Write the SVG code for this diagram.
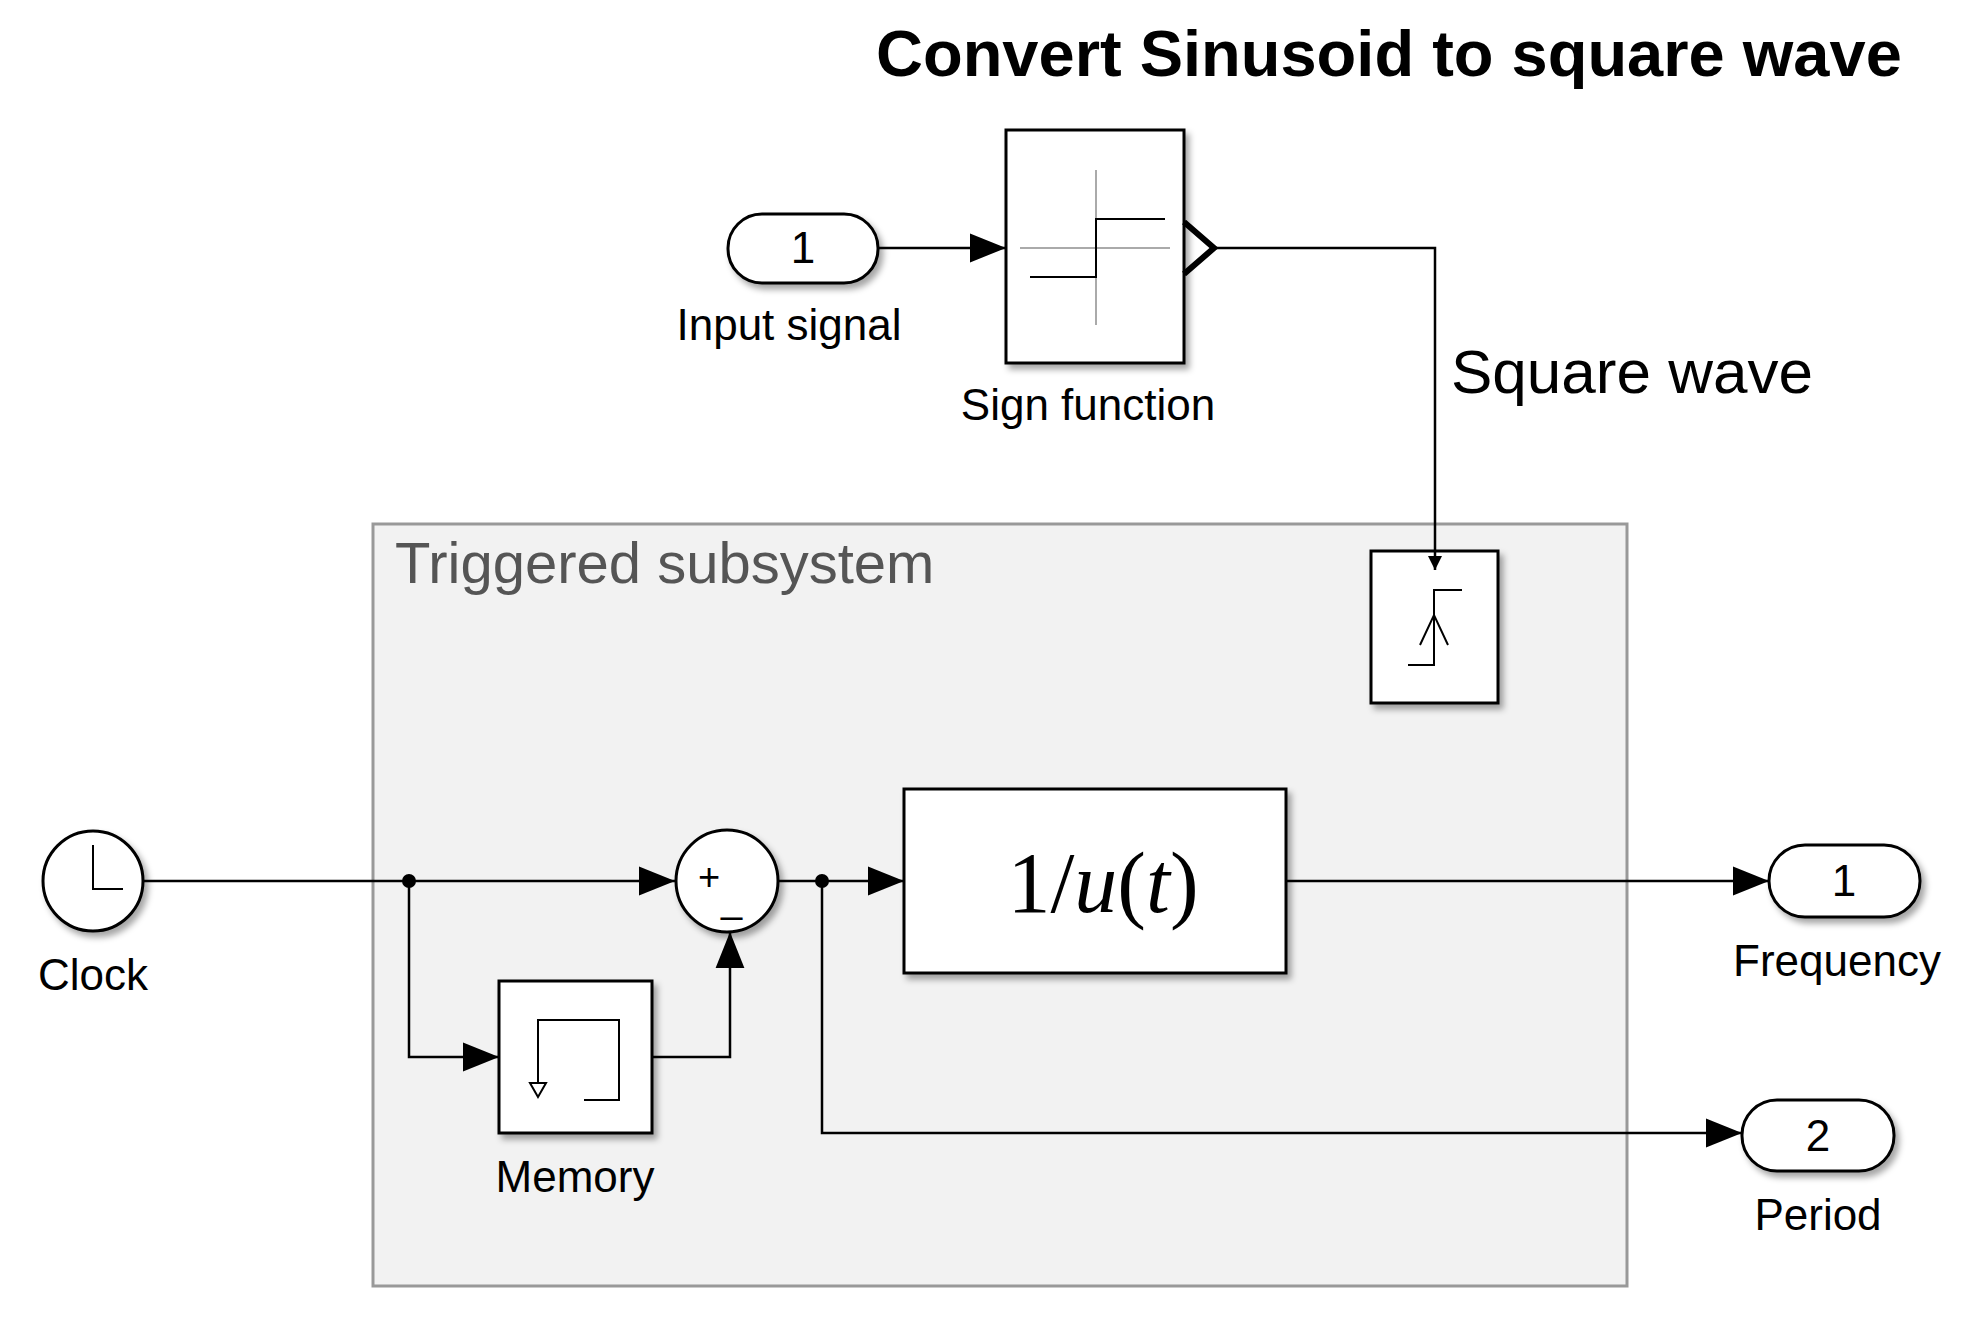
<svg xmlns="http://www.w3.org/2000/svg" width="1986" height="1324" viewBox="0 0 1986 1324">
<style>
text{font-family:"Liberation Sans",Arial,sans-serif;fill:#000}
.lbl{font-size:44px}
.blk{fill:#fff;stroke:#000;stroke-width:3;filter:url(#sh)}
.ln{fill:none;stroke:#000;stroke-width:2.5}
.thin{fill:none;stroke:#000;stroke-width:2}
.math{font-family:"Liberation Serif","Times New Roman",serif}
</style>
<defs>
<filter id="sh" x="-20%" y="-20%" width="150%" height="150%"><feDropShadow dx="4" dy="5" stdDeviation="3" flood-color="#000" flood-opacity="0.35"/></filter>
<marker id="ar" viewBox="0 0 10 10" refX="10" refY="5" markerWidth="14" markerHeight="14" markerUnits="userSpaceOnUse" orient="auto"><path d="M0,0L10,5L0,10z" fill="#000"/></marker>
<marker id="big" viewBox="0 0 10 10" refX="10" refY="5" markerWidth="36" markerHeight="36" markerUnits="userSpaceOnUse" orient="auto"><path d="M0,1L10,5L0,9z" fill="#000"/></marker>
</defs>
<rect width="1986" height="1324" fill="#fff"/>
<text x="876" y="76" font-size="65" font-weight="bold">Convert Sinusoid to square wave</text>
<g id="subsystem"><rect x="373" y="524" width="1254" height="762" fill="#f2f2f2" stroke="#999" stroke-width="3"/>
<text x="395" y="583" font-size="58" style="fill:#555">Triggered subsystem</text></g>
<g id="in1"><rect x="728" y="214" width="150" height="69" rx="34" class="blk"/><text x="803" y="263" font-size="44" text-anchor="middle">1</text><text x="789" y="340" class="lbl" text-anchor="middle">Input signal</text></g>
<g id="sign"><rect x="1006" y="130" width="178" height="233" class="blk"/>
<path d="M1020,248H1170M1096,170V325" stroke="#aaa" stroke-width="2"/>
<path class="thin" d="M1030,277H1096V219H1165"/>
<path d="M1184,222L1214,248L1184,274" fill="none" stroke="#000" stroke-width="6"/>
<text x="1088" y="420" class="lbl" text-anchor="middle">Sign function</text></g>
<text x="1451" y="393" font-size="62">Square wave</text>
<g id="trigger"><rect x="1371" y="551" width="127" height="152" class="blk"/>
<path class="thin" d="M1408,665H1434V590H1462M1420,645L1434,615L1448,645"/></g>
<g id="clock"><circle cx="93" cy="881" r="50" class="blk"/><path class="thin" d="M93,845V889H123"/><text x="93" y="990" class="lbl" text-anchor="middle">Clock</text></g>
<g id="sum"><circle cx="727" cy="881" r="51" class="blk"/><text x="698" y="890" font-size="38">+</text><text x="721" y="912" font-size="38">_</text></g>
<g id="memory"><rect x="499" y="981" width="153" height="152" class="blk"/>
<path class="thin" d="M538,1085V1020H619V1100H584"/><path d="M530,1083h16l-8,14z" fill="#fff" stroke="#000" stroke-width="2"/>
<text x="575" y="1192" class="lbl" text-anchor="middle">Memory</text></g>
<g id="recip"><rect x="904" y="789" width="382" height="184" class="blk"/>
<text x="1103" y="912" font-size="86" class="math" text-anchor="middle">1/<tspan font-style="italic">u</tspan>(<tspan font-style="italic">t</tspan>)</text></g>
<g id="out1"><rect x="1769" y="845" width="151" height="72" rx="36" class="blk"/><text x="1844" y="896" font-size="44" text-anchor="middle">1</text><text x="1837" y="976" class="lbl" text-anchor="middle">Frequency</text></g>
<g id="out2"><rect x="1742" y="1100" width="152" height="71" rx="35" class="blk"/><text x="1818" y="1151" font-size="44" text-anchor="middle">2</text><text x="1818" y="1230" class="lbl" text-anchor="middle">Period</text></g>
<g id="connectors">
<path class="ln" d="M878,248H1006" marker-end="url(#big)"/>
<path class="ln" d="M1216,248H1435V570" marker-end="url(#ar)"/>
<path class="ln" d="M144,881H675" marker-end="url(#big)"/>
<path class="ln" d="M409,881V1057H499" marker-end="url(#big)"/>
<path class="ln" d="M652,1057H730V932" marker-end="url(#big)"/>
<path class="ln" d="M778,881H904" marker-end="url(#big)"/>
<path class="ln" d="M1286,881H1769" marker-end="url(#big)"/>
<path class="ln" d="M822,881V1133H1742" marker-end="url(#big)"/>
<circle cx="409" cy="881" r="7"/><circle cx="822" cy="881" r="7"/>
</g>
</svg>
